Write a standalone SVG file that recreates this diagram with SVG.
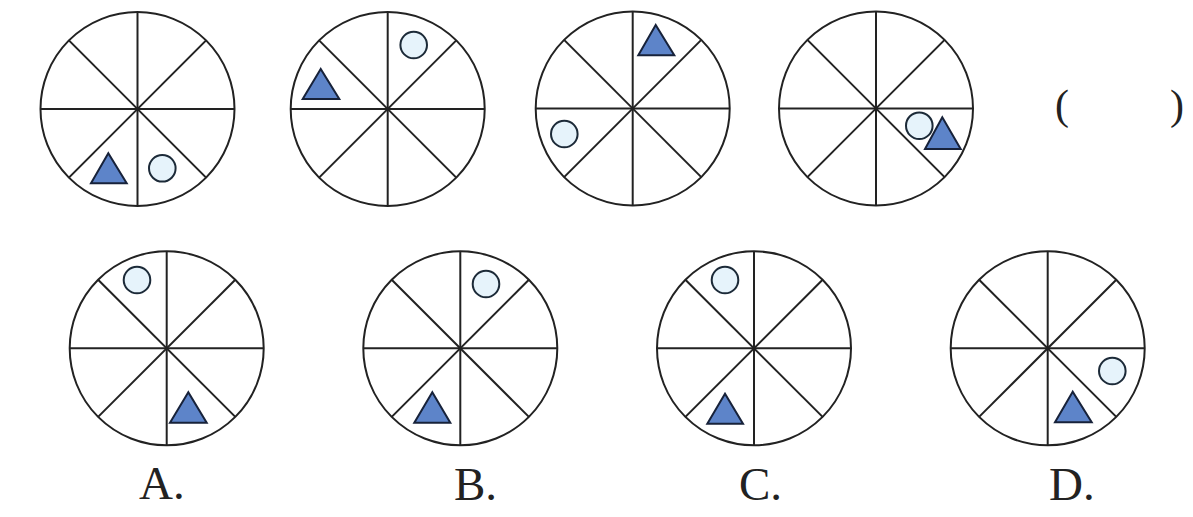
<svg xmlns="http://www.w3.org/2000/svg" width="1193" height="517" viewBox="0 0 1193 517">
<style>
.wheel{fill:none;stroke:#222;stroke-width:2}
.dot{fill:#e6f3fb;stroke:#1c2a38;stroke-width:2}
.tri{fill:#5d84c9;stroke:#17223a;stroke-width:2;stroke-linejoin:miter}
.lbl{font-family:"Liberation Serif","Times New Roman",serif;font-size:47px;fill:#222}
.par{font-family:"Liberation Serif","Times New Roman",serif;font-size:42px;fill:#222}
</style>
<defs>
<g id="wheelShape" class="wheel">
<circle cx="0" cy="0" r="97"/>
<line x1="-97" y1="0" x2="97" y2="0"/>
<line x1="0" y1="-97" x2="0" y2="97"/>
<line x1="-68.6" y1="-68.6" x2="68.6" y2="68.6"/>
<line x1="-68.6" y1="68.6" x2="68.6" y2="-68.6"/>
</g>
</defs>
<g id="fig1">
<use href="#wheelShape" x="137.5" y="109"/>
<polygon class="tri" points="108.3,153.3 91,183.3 126.7,183.3"/>
<circle class="dot" cx="162.3" cy="168.3" r="13.3"/>
</g>
<g id="fig2">
<use href="#wheelShape" x="387.7" y="109"/>
<polygon class="tri" points="320.7,69 302.7,99 339.3,99"/>
<circle class="dot" cx="413.7" cy="45" r="13.3"/>
</g>
<g id="fig3">
<use href="#wheelShape" x="632.7" y="108.5"/>
<polygon class="tri" points="655.7,25 638.3,55.3 674.3,55.3"/>
<circle class="dot" cx="564.3" cy="134" r="13.3"/>
</g>
<g id="fig4">
<use href="#wheelShape" x="876" y="108.5"/>
<circle class="dot" cx="919.3" cy="125.7" r="13.3"/>
<polygon class="tri" points="942.3,117.3 925,149 960.7,149"/>
</g>
<g id="blank">
<text class="par" x="1055" y="118.5">(</text>
<text class="par" x="1170" y="118.5">)</text>
</g>
<g id="optA">
<use href="#wheelShape" x="166.7" y="348.3"/>
<circle class="dot" cx="137" cy="280" r="13.3"/>
<polygon class="tri" points="188.3,392.3 170,422.7 206.7,422.7"/>
<text class="lbl" x="139" y="499">A.</text>
</g>
<g id="optB">
<use href="#wheelShape" x="460.3" y="348.3"/>
<circle class="dot" cx="486" cy="284" r="13.3"/>
<polygon class="tri" points="432.3,392.3 414.3,422.7 450.3,422.7"/>
<text class="lbl" x="454" y="500">B.</text>
</g>
<g id="optC">
<use href="#wheelShape" x="754" y="348.3"/>
<circle class="dot" cx="725" cy="280" r="13.3"/>
<polygon class="tri" points="725,393.7 707.3,423.7 743,423.7"/>
<text class="lbl" x="739" y="500">C.</text>
</g>
<g id="optD">
<use href="#wheelShape" x="1047.7" y="348.3"/>
<circle class="dot" cx="1112.3" cy="371" r="13.3"/>
<polygon class="tri" points="1072.7,391.7 1055,422.3 1091.7,422.3"/>
<text class="lbl" x="1049" y="500">D.</text>
</g>
<g id="connectors"/>
</svg>
